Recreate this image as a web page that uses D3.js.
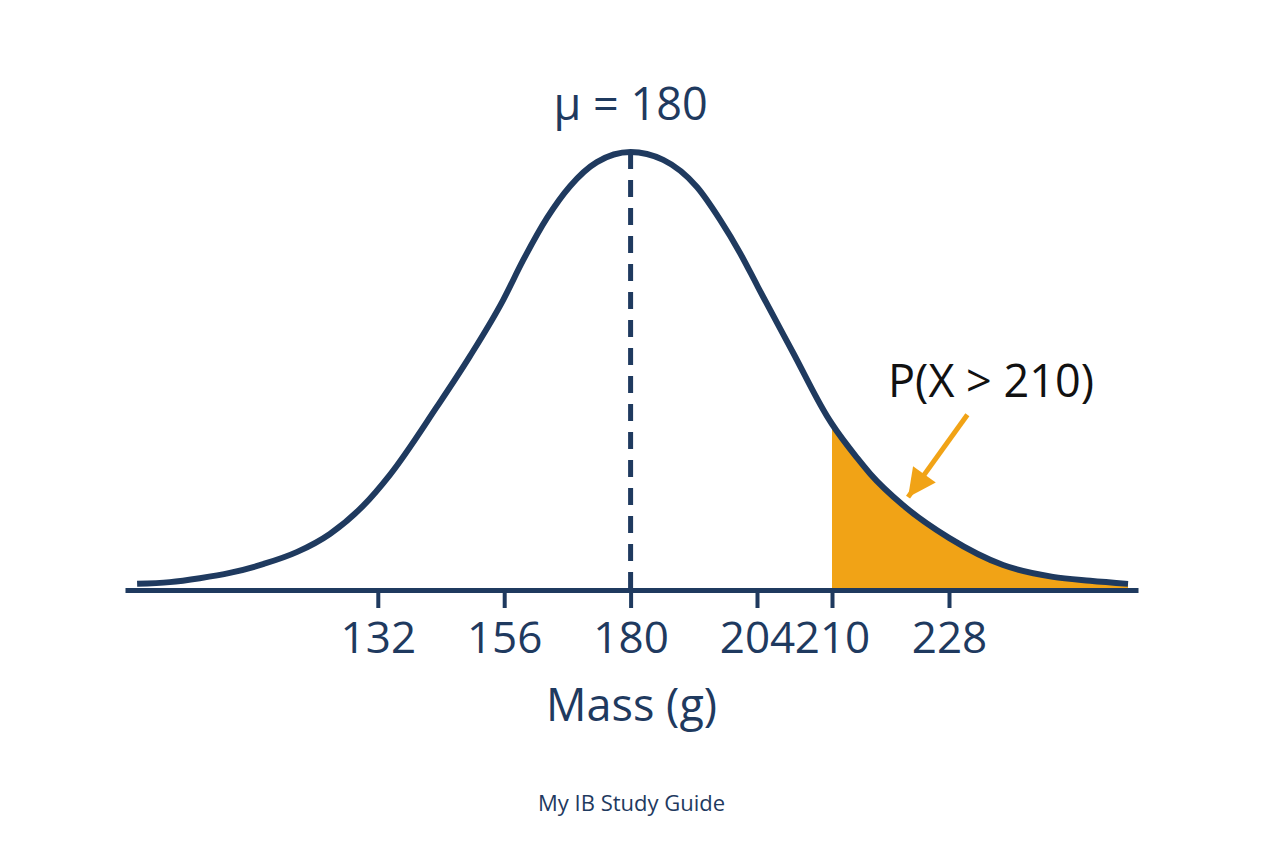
<!DOCTYPE html>
<html>
<head>
<meta charset="utf-8">
<script src="https://cdn.jsdelivr.net/npm/d3@7"></script>
<style>
  body { margin: 0; background: #fff; }
  svg { display: block; font-family: "Open Sans", "Noto Sans", sans-serif; }
</style>
</head>
<body>
<div class="chart"></div>
<script>
// curve: mass (g) and height relative to the peak
const massValues = [86.3, 92.5, 98.2, 103.9, 110.2, 116.7, 122.9, 129.2, 134.3, 143.2, 149.5, 155.8, 159.6, 164.1, 168.5, 173.6, 180,
  186.2, 192.6, 197.0, 200.8, 204, 204.5, 206.9, 209.6, 210, 213.9, 215.9, 220.9, 228, 238.3, 247.8, 254.9, 262.1]
const densityValues = [0.014, 0.018, 0.027, 0.039, 0.059, 0.087, 0.128, 0.192, 0.263, 0.418, 0.534, 0.662, 0.753, 0.849, 0.922, 0.977, 1.0,
  0.982, 0.920, 0.845, 0.769, 0.696, 0.669, 0.541, 0.397, 0.379, 0.301, 0.265, 0.194, 0.119, 0.057, 0.030, 0.021, 0.014]
const tickValues = [132, 156, 180, 204, 210, 228]
const meanValue = 180
const threshold = 210
const axisTitle = "Mass (g)"
const tailLabel = "P(X > 210)"
const footer = "My IB Study Guide"

const width = 1264
const height = 848
const navy = "#1f3a5f"
const orange = "#f1a316"

const points = massValues.map((m, i) => ({ m, d: densityValues[i] }))

// the picture spaces its ticks unevenly past 204, so the scale is piecewise
const x = d3.scaleLinear()
  .domain([84, 204, 210, 228, 264])
  .range([125, 757, 832, 949, 1138])

const y = d3.scaleLinear()
  .domain([0, 1])
  .range([590, 152])

const svg = d3.select(".chart")
  .append("svg")
  .attr("width", width)
  .attr("height", height)

svg.append("defs")
  .append("marker")
  .attr("id", "head")
  .attr("viewBox", "0 0 10 10")
  .attr("refX", 10)
  .attr("refY", 5)
  .attr("markerUnits", "userSpaceOnUse")
  .attr("markerWidth", 30)
  .attr("markerHeight", 28)
  .attr("orient", "auto")
  .append("path")
  .attr("d", "M0,0 L10,5 L0,10 Z")
  .style("fill", orange)

// shaded tail
const area = d3.area()
  .x(d => x(d.m))
  .y0(y(0))
  .y1(d => y(d.d))
  .curve(d3.curveMonotoneX)

svg.append("path")
  .datum(points.filter(d => d.m >= threshold))
  .attr("d", area)
  .style("fill", orange)

// axis
const axis = d3.axisBottom(x)
  .tickValues(tickValues)
  .tickSize(18)
  .tickSizeOuter(0)
  .tickPadding(14)
  .tickFormat(d3.format("d"))

const axisG = svg.append("g")
  .attr("transform", "translate(0," + y(0) + ")")
  .call(axis)

axisG.select(".domain")
  .attr("stroke", navy)
  .style("stroke-width", 5)

axisG.selectAll(".tick line")
  .attr("stroke", navy)
  .style("stroke-width", 4)

axisG.selectAll(".tick text")
  .attr("fill", navy)
  .style("font-size", "44px")
  .style("font-family", "\"Open Sans\", sans-serif")

// mean line
svg.append("line")
  .attr("x1", x(meanValue))
  .attr("x2", x(meanValue))
  .attr("y1", y(1))
  .attr("y2", y(0))
  .attr("stroke", navy)
  .style("stroke-width", 5)
  .style("stroke-dasharray", "17 11")

// curve
const line = d3.line()
  .x(d => x(d.m))
  .y(d => y(d.d))
  .curve(d3.curveMonotoneX)

svg.append("path")
  .datum(points)
  .attr("d", line)
  .style("fill", "none")
  .attr("stroke", navy)
  .style("stroke-width", 6)
  .style("stroke-linejoin", "round")

// labels
svg.append("text")
  .attr("x", x(meanValue))
  .attr("y", y(1) - 32)
  .attr("text-anchor", "middle")
  .attr("fill", navy)
  .style("font-size", "45px")
  .text("μ = " + meanValue)

svg.append("text")
  .attr("x", x(meanValue) + 1)
  .attr("y", 721)
  .attr("text-anchor", "middle")
  .attr("fill", navy)
  .style("font-size", "45px")
  .text(axisTitle)

svg.append("text")
  .attr("x", x(236))
  .attr("y", y(0.44))
  .attr("text-anchor", "middle")
  .attr("fill", "#111")
  .style("font-size", "45px")
  .text(tailLabel)

svg.append("line")
  .attr("x1", x(231.5))
  .attr("y1", y(0.40))
  .attr("x2", x(221.7))
  .attr("y2", y(0.212))
  .attr("stroke", orange)
  .style("stroke-width", 5)
  .attr("marker-end", "url(#head)")

svg.append("text")
  .attr("x", x(meanValue) + 1)
  .attr("y", 811)
  .attr("text-anchor", "middle")
  .attr("fill", navy)
  .style("font-size", "22px")
  .text(footer)
</script>
</body>
</html>
